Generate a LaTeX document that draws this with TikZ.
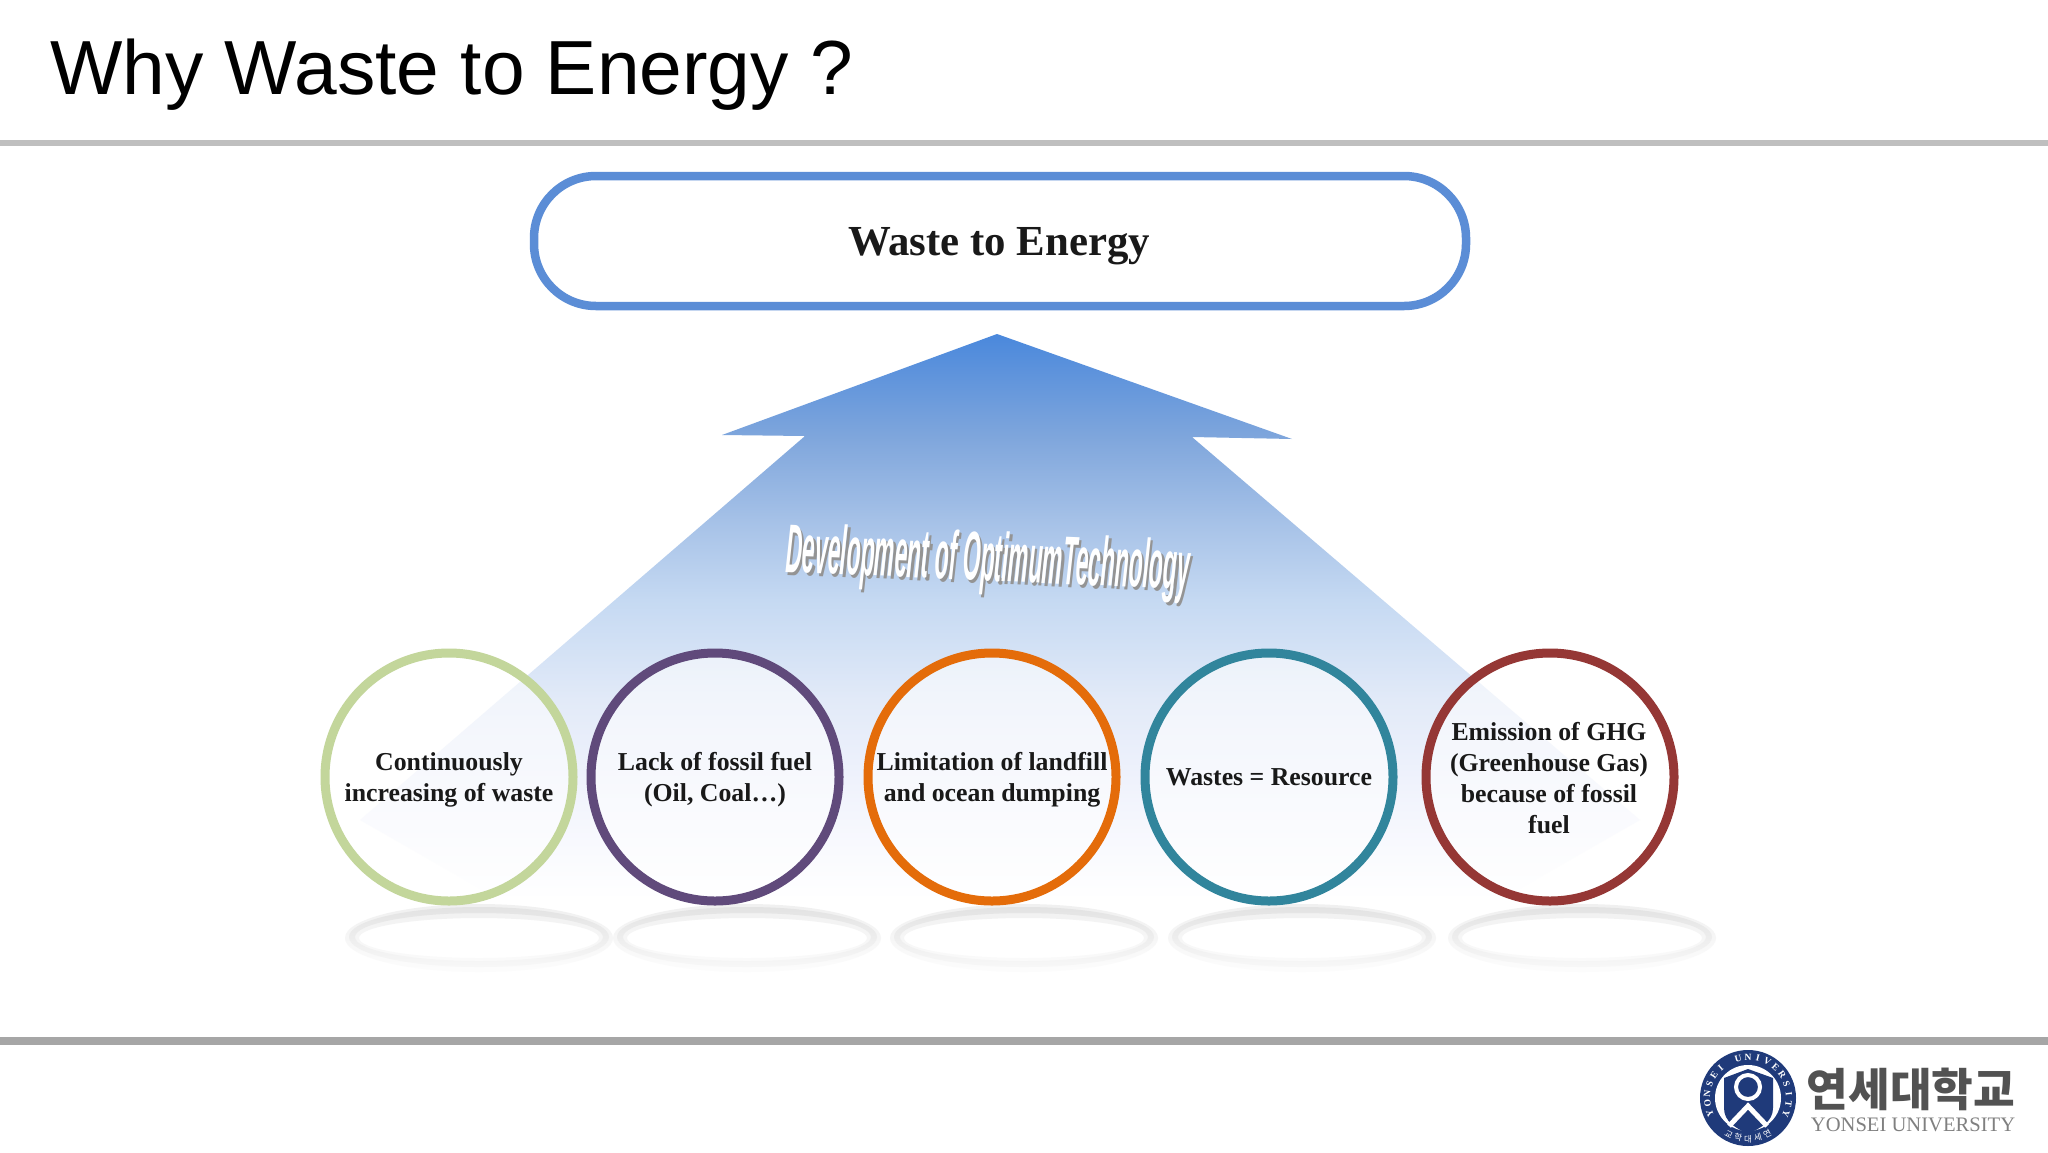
\documentclass[tikz,border=0pt]{standalone}
\usepackage{fontspec}
\setmainfont{Liberation Serif}
\newfontfamily\sansf{Liberation Sans}
\newfontfamily\krf{Noto Sans CJK KR}
\usetikzlibrary{shapes.geometric}
\definecolor{arA}{HTML}{4A88DC}
\definecolor{arB}{HTML}{7FA6DC}
\definecolor{arC}{HTML}{A8C3E8}
\definecolor{arD}{HTML}{C5D9F2}
\definecolor{arE}{HTML}{E2EAF8}
\definecolor{arF}{HTML}{EFF2FC}
\definecolor{arG}{HTML}{F9FAFE}
\definecolor{navy}{HTML}{1F3A7A}
\definecolor{boxb}{HTML}{5B8DD6}
\definecolor{cA}{HTML}{C3D69B}
\definecolor{cB}{HTML}{604A7B}
\definecolor{cC}{HTML}{E46C0A}
\definecolor{cD}{HTML}{31859C}
\definecolor{cE}{HTML}{953735}
\pgfdeclareverticalshading{arrowshade}{100bp}{color(0bp)=(white); color(25bp)=(white); color(29.4bp)=(arG); color(35.6bp)=(arF); color(42.7bp)=(arE); color(51.5bp)=(arD); color(58bp)=(arC); color(65.9bp)=(arB); color(75bp)=(arA); color(100bp)=(arA)}
\tikzset{
  bubble/.style={circle,draw=#1,line width=9pt,minimum size=248pt,inner sep=0pt,fill=white,fill opacity=.55},
  bubbletext/.style={inner sep=0pt,align=center,font=\fontsize{25.8}{31}\selectfont\bfseries,text=black!90},
  rule/.style={line width=#1},
  echoa/.style={top color=black!6,bottom color=black!1,even odd rule,draw=none},
  echob/.style={top color=black!11,bottom color=black!3,even odd rule,draw=none},
  seal/.style={inner sep=0pt,text=white,font=\fontsize{9.5}{10}\selectfont\bfseries}
}
\begin{document}
\begin{tikzpicture}[x=1pt,y=-1pt]
\useasboundingbox (0,0) rectangle (2048,1152);
\fill[white] (0,0) rectangle (2048,1152);
% rules
\coordinate (tl) at (0,142.5); \coordinate (tr) at (2048,142.5);
\coordinate (bl) at (0,1041); \coordinate (br) at (2048,1041);
\draw[rule=6pt,color=black!25] (tl)--(tr);
\draw[rule=8pt,color=black!35] (bl)--(br);
% title
\node[name=title,anchor=base west,inner sep=0pt,font=\sansf\fontsize{76.7}{80}\selectfont,text=black] at (50,94) {Why Waste to Energy ?};
% big arrow
\shade[shading=arrowshade] (997,334)--(1292,439)--(1192,437)--(1640,820)--(1500,900)--(500,900)--(360,820)--(805,436)--(722,435)--cycle;
% top box
\node[name=goal,draw=boxb,line width=8.5pt,rectangle,rounded corners=62pt,minimum width=932pt,minimum height=130pt,inner sep=0pt,fill=white] at (1000,241) {};
\node[name=goaltext,font=\fontsize{42.8}{46}\selectfont\bfseries,text=black!90,inner sep=0pt] at (999,246) {Waste to Energy};
% arrow caption
\node[name=capshadow,inner sep=0pt,text=black!42,rotate=-2.5] at (990.5,566) {\resizebox{404pt}{50pt}{\sansf\bfseries\itshape Development of OptimumTechnology}};
\node[name=caption,inner sep=0pt,text=white,rotate=-2.5] at (988,563) {\resizebox{404pt}{50pt}{\sansf\bfseries\itshape Development of OptimumTechnology}};
% reflections
\foreach \cx in {479,747,1024,1302,1582}{
  \shade[echoa] (\cx,938) ellipse (134 and 34) (\cx,938) ellipse (120 and 20);
  \shade[echob] (\cx,937) ellipse (130 and 30) (\cx,937) ellipse (124 and 24);
}
% circles
\node[name=b1,bubble=cA] at (449,777) {};
\node[name=b2,bubble=cB] at (715,777) {};
\node[name=b3,bubble=cC] at (992,777) {};
\node[name=b4,bubble=cD] at (1269,777) {};
\node[name=b5,bubble=cE] at (1550,777) {};
\node[name=t1,bubbletext] at (449,779.5) {Continuously\\increasing of waste};
\node[name=t2,bubbletext] at (715,779.5) {Lack of fossil fuel\\(Oil, Coal…)};
\node[name=t3,bubbletext] at (992,779.5) {Limitation of landfill\\and ocean dumping};
\node[name=t4,bubbletext] at (1269,777) {Wastes = Resource};
\node[name=t5,bubbletext] at (1549,778) {Emission of GHG\\(Greenhouse Gas)\\because of fossil\\fuel};
% seal
\fill[navy] (1748,1098) circle (48);
\fill[white] (1748,1098) circle (33);
\fill[navy] (1748,1069)--(1773,1078)--(1773,1108) .. controls (1773,1122) and (1760,1128) .. (1748,1134) .. controls (1736,1128) and (1724,1122) .. (1724,1108)--(1724,1078)--cycle;
\draw[white,line width=4pt] (1748,1087) circle (12);
\fill[navy] (1748,1087) circle (7);
\draw[white,line width=5pt] (1729,1126)--(1748,1106)--(1767,1126);
\fill[navy] (1748,1119)--(1757,1127)--(1748,1133)--(1739,1127)--cycle;
\foreach \ch [count=\i from 0] in {Y,O,N,S,E,I,{ },U,N,I,V,E,R,S,I,T,Y}{
  \pgfmathsetmacro{\t}{-112+14*\i}
  \node[name=sl\i,seal,rotate=-\t] at ({1748+41*sin(\t)},{1098-41*cos(\t)}) {\ch};
}
\foreach \ch [count=\i from 0] in {연,세,대,학,교}{
  \pgfmathsetmacro{\t}{28-14*\i}
  \node[name=sk\i,seal,rotate=\t,font=\krf\fontsize{8.5}{9}\selectfont] at ({1748+41*sin(\t)},{1098+41*cos(\t)}) {\ch};
}
% wordmark
\node[name=kor,anchor=center,inner sep=0pt,text=black!68,font=\krf\bfseries\fontsize{45.3}{47}\selectfont] at (1911,1089) {연세대학교};
\node[name=eng,anchor=center,inner sep=0pt,text=black!50,font=\fontsize{20.6}{22}\selectfont] at (1913,1125) {YONSEI UNIVERSITY};
\end{tikzpicture}
\end{document}
